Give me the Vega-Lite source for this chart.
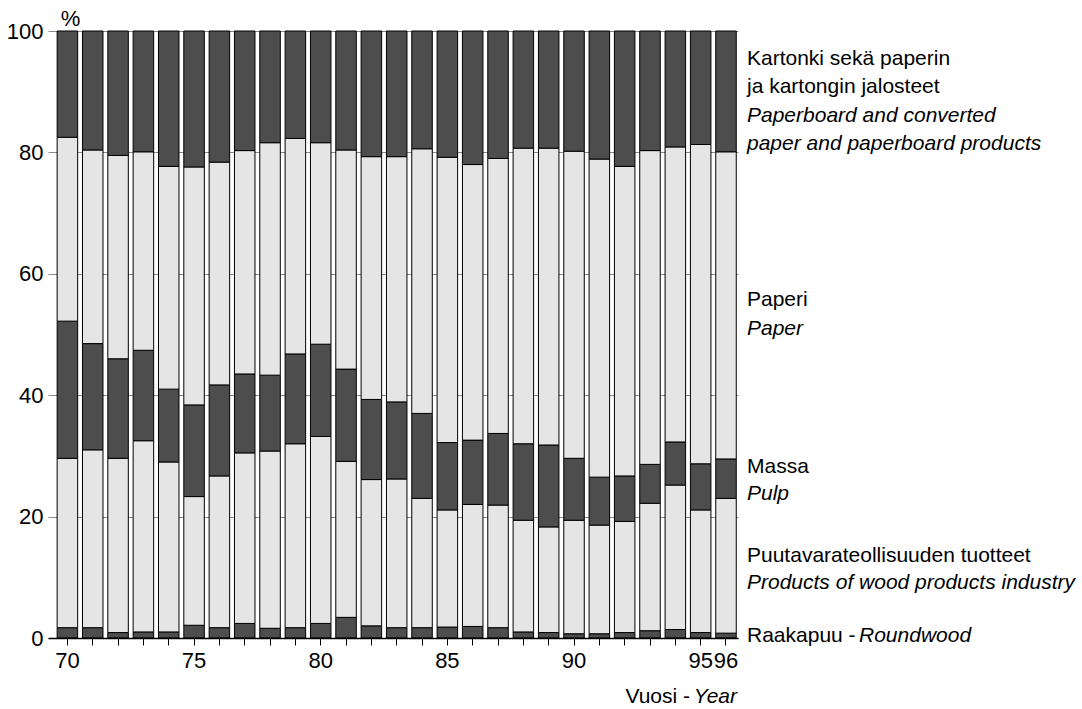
{
  "$schema": "https://vega.github.io/schema/vega-lite/v6.json",
  "width": 690,
  "height": 607,
  "autosize": {"type": "none"},
  "padding": {"left": 48, "top": 31, "right": 344, "bottom": 71},
  "background": "white",
  "config": {
    "view": {"stroke": null},
    "font": "Liberation Sans",
    "text": {"font": "Liberation Sans", "fontSize": 21, "color": "black"}
  },
  "datasets": {
    "shares": [
      {"year":70,"product":"Raakapuu","seq":1,"share":1.7},{"year":70,"product":"Puutavara","seq":2,"share":27.9},{"year":70,"product":"Massa","seq":3,"share":22.6},{"year":70,"product":"Paperi","seq":4,"share":30.3},{"year":70,"product":"Kartonki","seq":5,"share":17.5},
      {"year":71,"product":"Raakapuu","seq":1,"share":1.7},{"year":71,"product":"Puutavara","seq":2,"share":29.3},{"year":71,"product":"Massa","seq":3,"share":17.5},{"year":71,"product":"Paperi","seq":4,"share":31.9},{"year":71,"product":"Kartonki","seq":5,"share":19.6},
      {"year":72,"product":"Raakapuu","seq":1,"share":0.9},{"year":72,"product":"Puutavara","seq":2,"share":28.7},{"year":72,"product":"Massa","seq":3,"share":16.4},{"year":72,"product":"Paperi","seq":4,"share":33.5},{"year":72,"product":"Kartonki","seq":5,"share":20.5},
      {"year":73,"product":"Raakapuu","seq":1,"share":1.0},{"year":73,"product":"Puutavara","seq":2,"share":31.5},{"year":73,"product":"Massa","seq":3,"share":14.9},{"year":73,"product":"Paperi","seq":4,"share":32.7},{"year":73,"product":"Kartonki","seq":5,"share":19.9},
      {"year":74,"product":"Raakapuu","seq":1,"share":1.0},{"year":74,"product":"Puutavara","seq":2,"share":28.0},{"year":74,"product":"Massa","seq":3,"share":12.0},{"year":74,"product":"Paperi","seq":4,"share":36.7},{"year":74,"product":"Kartonki","seq":5,"share":22.3},
      {"year":75,"product":"Raakapuu","seq":1,"share":2.1},{"year":75,"product":"Puutavara","seq":2,"share":21.2},{"year":75,"product":"Massa","seq":3,"share":15.1},{"year":75,"product":"Paperi","seq":4,"share":39.2},{"year":75,"product":"Kartonki","seq":5,"share":22.4},
      {"year":76,"product":"Raakapuu","seq":1,"share":1.7},{"year":76,"product":"Puutavara","seq":2,"share":25.0},{"year":76,"product":"Massa","seq":3,"share":15.0},{"year":76,"product":"Paperi","seq":4,"share":36.7},{"year":76,"product":"Kartonki","seq":5,"share":21.6},
      {"year":77,"product":"Raakapuu","seq":1,"share":2.4},{"year":77,"product":"Puutavara","seq":2,"share":28.1},{"year":77,"product":"Massa","seq":3,"share":13.0},{"year":77,"product":"Paperi","seq":4,"share":36.8},{"year":77,"product":"Kartonki","seq":5,"share":19.7},
      {"year":78,"product":"Raakapuu","seq":1,"share":1.6},{"year":78,"product":"Puutavara","seq":2,"share":29.2},{"year":78,"product":"Massa","seq":3,"share":12.5},{"year":78,"product":"Paperi","seq":4,"share":38.3},{"year":78,"product":"Kartonki","seq":5,"share":18.4},
      {"year":79,"product":"Raakapuu","seq":1,"share":1.7},{"year":79,"product":"Puutavara","seq":2,"share":30.3},{"year":79,"product":"Massa","seq":3,"share":14.8},{"year":79,"product":"Paperi","seq":4,"share":35.5},{"year":79,"product":"Kartonki","seq":5,"share":17.7},
      {"year":80,"product":"Raakapuu","seq":1,"share":2.4},{"year":80,"product":"Puutavara","seq":2,"share":30.8},{"year":80,"product":"Massa","seq":3,"share":15.2},{"year":80,"product":"Paperi","seq":4,"share":33.2},{"year":80,"product":"Kartonki","seq":5,"share":18.4},
      {"year":81,"product":"Raakapuu","seq":1,"share":3.4},{"year":81,"product":"Puutavara","seq":2,"share":25.7},{"year":81,"product":"Massa","seq":3,"share":15.2},{"year":81,"product":"Paperi","seq":4,"share":36.1},{"year":81,"product":"Kartonki","seq":5,"share":19.6},
      {"year":82,"product":"Raakapuu","seq":1,"share":2.0},{"year":82,"product":"Puutavara","seq":2,"share":24.1},{"year":82,"product":"Massa","seq":3,"share":13.2},{"year":82,"product":"Paperi","seq":4,"share":40.0},{"year":82,"product":"Kartonki","seq":5,"share":20.7},
      {"year":83,"product":"Raakapuu","seq":1,"share":1.7},{"year":83,"product":"Puutavara","seq":2,"share":24.5},{"year":83,"product":"Massa","seq":3,"share":12.7},{"year":83,"product":"Paperi","seq":4,"share":40.4},{"year":83,"product":"Kartonki","seq":5,"share":20.7},
      {"year":84,"product":"Raakapuu","seq":1,"share":1.7},{"year":84,"product":"Puutavara","seq":2,"share":21.3},{"year":84,"product":"Massa","seq":3,"share":14.0},{"year":84,"product":"Paperi","seq":4,"share":43.6},{"year":84,"product":"Kartonki","seq":5,"share":19.4},
      {"year":85,"product":"Raakapuu","seq":1,"share":1.8},{"year":85,"product":"Puutavara","seq":2,"share":19.3},{"year":85,"product":"Massa","seq":3,"share":11.1},{"year":85,"product":"Paperi","seq":4,"share":47.0},{"year":85,"product":"Kartonki","seq":5,"share":20.8},
      {"year":86,"product":"Raakapuu","seq":1,"share":1.9},{"year":86,"product":"Puutavara","seq":2,"share":20.1},{"year":86,"product":"Massa","seq":3,"share":10.6},{"year":86,"product":"Paperi","seq":4,"share":45.4},{"year":86,"product":"Kartonki","seq":5,"share":22.0},
      {"year":87,"product":"Raakapuu","seq":1,"share":1.7},{"year":87,"product":"Puutavara","seq":2,"share":20.2},{"year":87,"product":"Massa","seq":3,"share":11.8},{"year":87,"product":"Paperi","seq":4,"share":45.3},{"year":87,"product":"Kartonki","seq":5,"share":21.0},
      {"year":88,"product":"Raakapuu","seq":1,"share":1.0},{"year":88,"product":"Puutavara","seq":2,"share":18.4},{"year":88,"product":"Massa","seq":3,"share":12.6},{"year":88,"product":"Paperi","seq":4,"share":48.7},{"year":88,"product":"Kartonki","seq":5,"share":19.3},
      {"year":89,"product":"Raakapuu","seq":1,"share":0.9},{"year":89,"product":"Puutavara","seq":2,"share":17.4},{"year":89,"product":"Massa","seq":3,"share":13.5},{"year":89,"product":"Paperi","seq":4,"share":48.9},{"year":89,"product":"Kartonki","seq":5,"share":19.3},
      {"year":90,"product":"Raakapuu","seq":1,"share":0.7},{"year":90,"product":"Puutavara","seq":2,"share":18.7},{"year":90,"product":"Massa","seq":3,"share":10.2},{"year":90,"product":"Paperi","seq":4,"share":50.6},{"year":90,"product":"Kartonki","seq":5,"share":19.8},
      {"year":91,"product":"Raakapuu","seq":1,"share":0.7},{"year":91,"product":"Puutavara","seq":2,"share":17.9},{"year":91,"product":"Massa","seq":3,"share":7.9},{"year":91,"product":"Paperi","seq":4,"share":52.4},{"year":91,"product":"Kartonki","seq":5,"share":21.1},
      {"year":92,"product":"Raakapuu","seq":1,"share":0.9},{"year":92,"product":"Puutavara","seq":2,"share":18.3},{"year":92,"product":"Massa","seq":3,"share":7.5},{"year":92,"product":"Paperi","seq":4,"share":51.0},{"year":92,"product":"Kartonki","seq":5,"share":22.3},
      {"year":93,"product":"Raakapuu","seq":1,"share":1.2},{"year":93,"product":"Puutavara","seq":2,"share":21.0},{"year":93,"product":"Massa","seq":3,"share":6.4},{"year":93,"product":"Paperi","seq":4,"share":51.7},{"year":93,"product":"Kartonki","seq":5,"share":19.7},
      {"year":94,"product":"Raakapuu","seq":1,"share":1.4},{"year":94,"product":"Puutavara","seq":2,"share":23.8},{"year":94,"product":"Massa","seq":3,"share":7.1},{"year":94,"product":"Paperi","seq":4,"share":48.6},{"year":94,"product":"Kartonki","seq":5,"share":19.1},
      {"year":95,"product":"Raakapuu","seq":1,"share":0.9},{"year":95,"product":"Puutavara","seq":2,"share":20.2},{"year":95,"product":"Massa","seq":3,"share":7.6},{"year":95,"product":"Paperi","seq":4,"share":52.6},{"year":95,"product":"Kartonki","seq":5,"share":18.7},
      {"year":96,"product":"Raakapuu","seq":1,"share":0.8},{"year":96,"product":"Puutavara","seq":2,"share":22.2},{"year":96,"product":"Massa","seq":3,"share":6.5},{"year":96,"product":"Paperi","seq":4,"share":50.6},{"year":96,"product":"Kartonki","seq":5,"share":19.9}
    ],
    "labelsNormal": [
      {"label": "Kartonki sekä paperin\nja kartongin jalosteet", "pos": 94.4},
      {"label": "Paperi", "pos": 54.7},
      {"label": "Massa", "pos": 27.2},
      {"label": "Puutavarateollisuuden tuotteet", "pos": 12.6},
      {"label": "Raakapuu -", "pos": -0.6}
    ],
    "labelsItalic": [
      {"label": "Paperboard and converted\npaper and paperboard products", "pos": 85.0},
      {"label": "Paper", "pos": 49.9},
      {"label": "Pulp", "pos": 22.7},
      {"label": "Products of wood products industry", "pos": 8.0}
    ],
    "labelsRound": [
      {"label": "Roundwood", "pos": -0.6}
    ]
  },
  "layer": [
    {
      "data": {"name": "shares"},
      "mark": {"type": "bar", "stroke": "black", "strokeWidth": 1},
      "encoding": {
        "x": {
          "field": "year",
          "type": "ordinal",
          "scale": {"paddingInner": 0.19, "paddingOuter": 0.215, "align": 0.84},
          "axis": {
            "title": null,
            "domainColor": "black",
            "domainWidth": 1.5,
            "tickColor": "black",
            "tickSize": 7,
            "labelAngle": 0,
            "labelFontSize": 22,
            "labelColor": "black",
            "labelPadding": 5,
            "labelOverlap": false,
            "labelBound": false,
            "labelFlush": false,
            "labelExpr": "indexof([70,75,80,85,90,95,96], datum.value) >= 0 ? datum.value : ''",
            "grid": false,
            "zindex": 1
          }
        },
        "y": {
          "field": "share",
          "type": "quantitative",
          "stack": "zero",
          "scale": {"domain": [0, 100], "nice": false},
          "axis": {
            "values": [0, 20, 40, 60, 80, 100],
            "domain": false,
            "ticks": false,
            "grid": true,
            "gridColor": "#8a8a8a",
            "gridWidth": 1,
            "labelFontSize": 22,
            "labelColor": "black",
            "labelPadding": 5,
            "title": "%",
            "titleAngle": 0,
            "titleFontSize": 22,
            "titleFontWeight": "normal",
            "titleColor": "black",
            "titleAlign": "center",
            "titleBaseline": "alphabetic",
            "titleX": 22,
            "titleY": -6
          }
        },
        "color": {
          "field": "product",
          "type": "nominal",
          "scale": {
            "domain": ["Raakapuu", "Puutavara", "Massa", "Paperi", "Kartonki"],
            "range": ["#4d4d4d", "#e5e5e5", "#4d4d4d", "#e5e5e5", "#4d4d4d"]
          },
          "legend": null
        },
        "order": {"field": "seq", "type": "quantitative"}
      }
    },
    {
      "data": {"name": "labelsNormal"},
      "mark": {"type": "text", "align": "left", "baseline": "alphabetic", "dx": 21, "lineHeight": 28.3, "lineBreak": "\n"},
      "encoding": {
        "x": {"datum": 96, "type": "ordinal"},
        "y": {"field": "pos", "type": "quantitative"},
        "text": {"field": "label"}
      }
    },
    {
      "data": {"name": "labelsItalic"},
      "mark": {"type": "text", "align": "left", "baseline": "alphabetic", "dx": 21, "lineHeight": 28.3, "lineBreak": "\n", "fontStyle": "italic"},
      "encoding": {
        "x": {"datum": 96, "type": "ordinal"},
        "y": {"field": "pos", "type": "quantitative"},
        "text": {"field": "label"}
      }
    },
    {
      "data": {"name": "labelsRound"},
      "mark": {"type": "text", "align": "left", "baseline": "alphabetic", "dx": 133, "fontStyle": "italic"},
      "encoding": {
        "x": {"datum": 96, "type": "ordinal"},
        "y": {"field": "pos", "type": "quantitative"},
        "text": {"field": "label"}
      }
    },
    {
      "data": {"values": [{"label": "Vuosi -"}]},
      "mark": {"type": "text", "align": "right", "baseline": "alphabetic", "dx": -36, "dy": 65},
      "encoding": {
        "x": {"datum": 96, "type": "ordinal"},
        "y": {"datum": 0, "type": "quantitative"},
        "text": {"field": "label"}
      }
    },
    {
      "data": {"values": [{"label": "Year"}]},
      "mark": {"type": "text", "align": "right", "baseline": "alphabetic", "dx": 11, "dy": 65, "fontStyle": "italic"},
      "encoding": {
        "x": {"datum": 96, "type": "ordinal"},
        "y": {"datum": 0, "type": "quantitative"},
        "text": {"field": "label"}
      }
    }
  ]
}
